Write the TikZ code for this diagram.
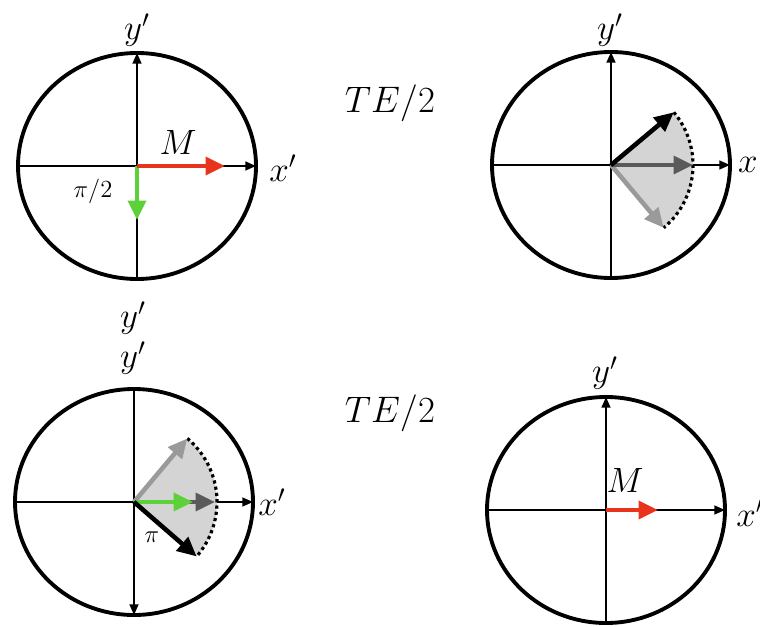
\RequirePackage{fix-cm}
\documentclass[tikz,border=0pt]{standalone}
\usepackage{amsmath}
\usepackage{xcolor}
\usepackage{tikz}
\usetikzlibrary{arrows.meta,calc}
\definecolor{mred}{HTML}{E8341C}
\definecolor{mgreen}{HTML}{5CD13A}
\definecolor{dgray}{HTML}{5A5A5A}
\definecolor{lgray}{HTML}{9A9A9A}
\definecolor{fangray}{HTML}{D4D4D4}

\begin{document}
\begin{tikzpicture}[x=0.02cm,y=0.02cm,
    rim/.style={line width=2.2pt},
    axis/.style={line width=1pt,-{Triangle[length=6pt,width=5pt]}},
    vec/.style={line width=2.6pt,-{Triangle[length=11pt,width=10pt]}},
    arcdots/.style={line width=1.8pt,dash pattern=on 1.8pt off 1.8pt},
    lab/.style={font=\fontsize{20}{24}\selectfont},
    big/.style={font=\fontsize{21}{25}\selectfont},
    small/.style={font=\fontsize{14}{16}\selectfont}]
  \useasboundingbox (0,0) rectangle (760,626);
  % four frames
  \foreach \n/\x/\y in {1/137/460,2/611/461,3/134/124,4/606/116}{
    \coordinate (c\n) at (\x,\y);
    \coordinate (w\n) at (\x-119,\y); \coordinate (e\n) at (\x+119,\y);
    \coordinate (n\n) at (\x,\y+113); \coordinate (s\n) at (\x,\y-113);
    \draw[rim] (c\n) ellipse [x radius=119,y radius=113];
    \draw[axis] (w\n) -- (e\n);
  }
  \draw[axis] (s1) -- (n1); \draw[axis] (s2) -- (n2);
  \draw[axis] (n3) -- (s3); \draw[axis] (s4) -- (n4);

  % top left: after the pulse
  \coordinate (r1) at ($(c1)+(88,0)$); \coordinate (g1) at ($(c1)+(0,-54)$);
  \draw[vec,mgreen] (c1) -- (g1);
  \draw[vec,mred] (c1) -- (r1);
  \node[lab] (y1) at (137,596) {$y'$};
  \node[lab] (x1) at (283,458) {$x'$};
  \node[lab] (m1) at (178,484) {$M$};
  \node[small] (p1) at (93,435) {$\pi/2$};

  % top right: fanning out
  \coordinate (a2) at ($(c2)+(40:82)$); \coordinate (b2) at ($(c2)+(-50:82)$);
  \coordinate (d2) at ($(c2)+(82,0)$);
  \fill[fangray] (c2) -- (a2) arc[start angle=40,end angle=-50,radius=82] -- cycle;
  \draw[arcdots] (a2) arc[start angle=40,end angle=-50,radius=82];
  \draw[vec,lgray] (c2) -- (b2);
  \draw[vec,dgray] (c2) -- (d2);
  \draw[vec,black] (c2) -- (a2);
  \node[lab] (y2) at (610,596) {$y'$};
  \node[lab] (x2) at (748,461) {$x$};

  % bottom left: after the pi pulse
  \coordinate (a3) at ($(c3)+(50:83)$); \coordinate (b3) at ($(c3)+(-41:83)$);
  \coordinate (d3) at ($(c3)+(81,0)$); \coordinate (g3) at ($(c3)+(59,0)$);
  \fill[fangray] (c3) -- (a3) arc[start angle=50,end angle=-41,radius=83] -- cycle;
  \draw[arcdots] (a3) arc[start angle=50,end angle=-41,radius=83];
  \draw[vec,lgray] (c3) -- (a3);
  \draw[vec,dgray] (c3) -- (d3);
  \draw[vec,mgreen] (c3) -- (g3);
  \draw[vec,black] (c3) -- (b3);
  \node[lab] (y3a) at (133,308) {$y'$};
  \node[lab] (y3) at (133,268) {$y'$};
  \node[lab] (x3) at (272,124) {$x'$};
  \node[small] (p3) at (152,89) {$\pi$};

  % bottom right: echo
  \coordinate (r4) at ($(c4)+(52,0)$);
  \draw[vec,mred] (c4) -- (r4);
  \node[lab] (y4) at (605,253) {$y'$};
  \node[lab] (x4) at (750,113) {$x'$};
  \node[lab] (m4) at (625,146) {$M$};

  \node[big] (te1) at (390,523) {$TE/2$};
  \node[big] (te2) at (390,213) {$TE/2$};
\end{tikzpicture}
\end{document}
